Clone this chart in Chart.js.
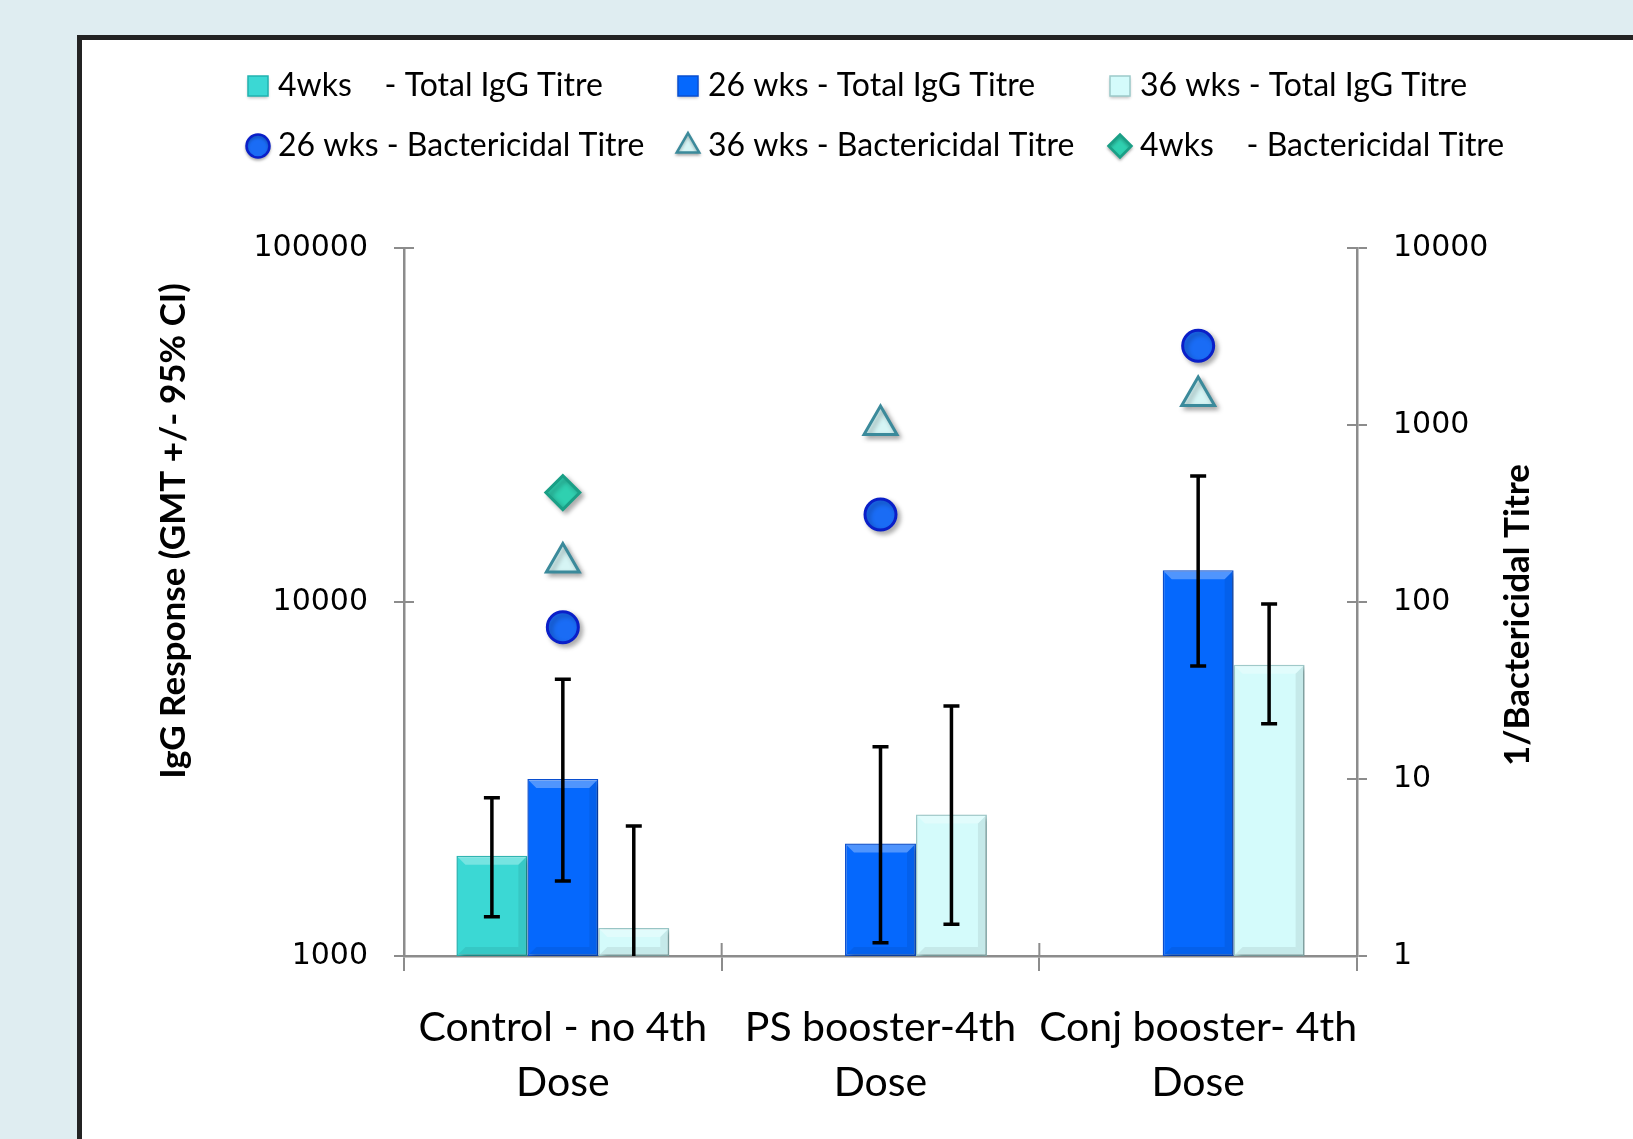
<!DOCTYPE html>
<html>
<head>
<meta charset="utf-8">
<script src="https://cdn.jsdelivr.net/npm/chart.js@4.4.0/dist/chart.umd.min.js"></script>
<style>
  html, body { margin: 0; padding: 0; }
  body { width: 1633px; height: 1139px; background: #dfedf1; overflow: hidden; position: relative; }
  #frame { position: absolute; left: 77px; top: 35px; width: 1700px; height: 1200px; background: #fff;
           border-left: 5px solid #232323; border-top: 5px solid #232323; box-sizing: border-box; }
  #chart { position: absolute; left: 0; top: 0; }
</style>
</head>
<body>
<div id="frame"></div>
<canvas id="chart" width="1633" height="1139"></canvas>
<script>
// Data
const categories = [['Control - no 4th', 'Dose'], ['PS booster-4th', 'Dose'], ['Conj booster- 4th', 'Dose']];

// IgG titre (left axis), GMT with 95% CI
const igg4wk = [1920, null, null];
const igg4wkLow = [1290, null, null];
const igg4wkHigh = [2800, null, null];
const igg26wk = [3160, 2080, 12300];
const igg26wkLow = [1630, 1090, 6600];
const igg26wkHigh = [6050, 3900, 22700];
const igg36wk = [1200, 2510, 6650];
const igg36wkLow = [700, 1230, 4530];
const igg36wkHigh = [2330, 5080, 9870];

// Bactericidal titre (right axis)
const bact26wk = [72, 312, 2800];
const bact36wk = [167, 1000, 1460];
const bact4wk = [415, null, null];

const leftTicks = [1000, 10000, 100000];
const rightTicks = [1, 10, 100, 1000, 10000];

const textFont = 'Lato, "Open Sans", sans-serif';
const numFont = '"DejaVu Sans", Verdana, sans-serif';
const axisGray = '#8c8c8c';

// Shadow under bars and markers
const shadows = {
  id: 'shadows',
  beforeDatasetDraw(chart) {
    const c = chart.ctx;
    c.save();
    c.shadowColor = 'rgba(0, 0, 0, 0.3)';
    c.shadowBlur = 5;
    c.shadowOffsetX = 3;
    c.shadowOffsetY = 3;
  },
  afterDatasetDraw(chart) {
    chart.ctx.restore();
  }
};

// Soft bevel on the bars, like the Excel original
const bevel = {
  id: 'bevel',
  afterDatasetDraw(chart, args) {
    const meta = args.meta;
    if (meta.type !== 'bar') return;
    const c = chart.ctx;
    c.save();
    meta.data.forEach(bar => {
      if (!bar || isNaN(bar.y)) return;
      const l = bar.x - bar.width / 2, r = bar.x + bar.width / 2;
      const t = bar.y, b = bar.base;
      if (b - t < 4) return;
      const d = Math.min(9, (b - t) / 3);
      // top highlight
      c.fillStyle = 'rgba(255, 255, 255, 0.3)';
      c.beginPath();
      c.moveTo(l + 1, t + 1); c.lineTo(r - 1, t + 1); c.lineTo(r - d, t + d); c.lineTo(l + d, t + d);
      c.closePath(); c.fill();
      // darker sides and bottom
      c.fillStyle = 'rgba(0, 0, 0, 0.07)';
      c.beginPath();
      c.moveTo(r - 1, t + 1); c.lineTo(r - 1, b - 1); c.lineTo(r - d, b - d); c.lineTo(r - d, t + d);
      c.closePath(); c.fill();
      c.beginPath();
      c.moveTo(l + 1, b - 1); c.lineTo(r - 1, b - 1); c.lineTo(r - d, b - d); c.lineTo(l + d, b - d);
      c.closePath(); c.fill();
    });
    c.restore();
  }
};

// Error bars for the IgG bars
const errorBars = {
  id: 'errorBars',
  afterDatasetsDraw(chart) {
    const { ctx, chartArea, scales: { y } } = chart;
    ctx.save();
    ctx.beginPath();
    ctx.rect(chartArea.left, 0, chartArea.width, chartArea.bottom);
    ctx.clip();
    ctx.strokeStyle = '#000';
    ctx.lineWidth = 3.5;
    chart.data.datasets.forEach((ds, di) => {
      if (!ds.errLow) return;
      chart.getDatasetMeta(di).data.forEach((bar, i) => {
        if (ds.data[i] == null) return;
        const x = bar.x;
        const yl = y.getPixelForValue(ds.errLow[i]);
        const yh = y.getPixelForValue(ds.errHigh[i]);
        ctx.beginPath();
        ctx.moveTo(x, yl); ctx.lineTo(x, yh);
        ctx.moveTo(x - 8, yh); ctx.lineTo(x + 8, yh);
        ctx.moveTo(x - 8, yl); ctx.lineTo(x + 8, yl);
        ctx.stroke();
      });
    });
    ctx.restore();
  }
};

// Excel style tick marks cross the axis line, Chart.js draws only the outer half
const crossTicks = {
  id: 'crossTicks',
  afterDraw(chart) {
    const { ctx, chartArea, scales } = chart;
    ctx.save();
    ctx.strokeStyle = axisGray;
    ctx.lineWidth = 2;
    ctx.beginPath();
    scales.y.ticks.forEach(t => {
      const p = scales.y.getPixelForValue(t.value);
      ctx.moveTo(chartArea.left, p); ctx.lineTo(chartArea.left + 10, p);
    });
    scales.y2.ticks.forEach(t => {
      const p = scales.y2.getPixelForValue(t.value);
      ctx.moveTo(chartArea.right - 10, p); ctx.lineTo(chartArea.right, p);
    });
    const half = (scales.x.getPixelForValue(1) - scales.x.getPixelForValue(0)) / 2;
    for (let i = 0; i <= categories.length; i++) {
      const p = scales.x.getPixelForValue(0) - half + i * 2 * half;
      ctx.moveTo(p, chartArea.bottom - 13); ctx.lineTo(p, chartArea.bottom);
    }
    ctx.stroke();
    ctx.restore();
  }
};

// Axis titles placed where the original has them
const axisTitles = {
  id: 'axisTitles',
  afterDraw(chart) {
    const c = chart.ctx;
    c.save();
    c.fillStyle = '#000';
    c.font = 'bold 35px ' + textFont;
    c.textAlign = 'center';
    c.textBaseline = 'middle';
    [['IgG Response (GMT +/- 95% CI)', 174, 531], ['1/Bactericidal Titre', 1518, 615]].forEach(([t, x, y]) => {
      c.save();
      c.translate(x, y);
      c.rotate(-Math.PI / 2);
      c.fillText(t, 0, 0);
      c.restore();
    });
    c.restore();
  }
};

// Legend in a 3 x 2 grid
const gridLegend = {
  id: 'gridLegend',
  afterDraw(chart) {
    const c = chart.ctx;
    const colX = [258, 688, 1120];
    const rowY = [86, 146];
    c.save();
    c.font = '32px ' + textFont;
    c.textBaseline = 'middle';
    c.fillStyle = '#000';
    chart.data.datasets.forEach((ds, i) => {
      const x = colX[i % 3];
      const y = rowY[Math.floor(i / 3)];
      c.save();
      c.shadowColor = 'rgba(0, 0, 0, 0.25)';
      c.shadowBlur = 3;
      c.shadowOffsetY = 2;
      if (ds.type === 'line') {
        c.fillStyle = ds.pointBackgroundColor;
        c.strokeStyle = ds.pointBorderColor;
        c.lineWidth = 2.5;
        Chart.helpers.drawPoint(c, { pointStyle: ds.pointStyle, radius: ds.pointStyle === 'triangle' ? 13 : 11.5, borderWidth: 2.5 }, x, y);
      } else {
        c.fillStyle = ds.backgroundColor;
        c.fillRect(x - 10, y - 10, 20, 20);
        c.shadowColor = 'transparent';
        c.strokeStyle = ds.borderColor;
        c.lineWidth = 1.5;
        c.strokeRect(x - 10, y - 10, 20, 20);
      }
      c.restore();
      c.fillText(ds.label, x + 20, y);
    });
    c.restore();
  }
};

const barStyle = { borderWidth: 1.5, borderSkipped: false, yAxisID: 'y', barPercentage: 1.0, categoryPercentage: 0.67 };
const pointStyle = { type: 'line', showLine: false, yAxisID: 'y2', pointBorderWidth: 3 };

new Chart(document.getElementById('chart'), {
  type: 'bar',
  data: {
    labels: categories,
    datasets: [
      { ...barStyle, label: '4wks    - Total IgG Titre', data: igg4wk, errLow: igg4wkLow, errHigh: igg4wkHigh,
        backgroundColor: '#3bd8d4', borderColor: '#22b3b0' },
      { ...barStyle, label: '26 wks - Total IgG Titre', data: igg26wk, errLow: igg26wkLow, errHigh: igg26wkHigh,
        backgroundColor: '#0568fd', borderColor: '#0a4fd0' },
      { ...barStyle, label: '36 wks - Total IgG Titre', data: igg36wk, errLow: igg36wkLow, errHigh: igg36wkHigh,
        backgroundColor: '#d4fbfb', borderColor: '#9ccaca' },
      { ...pointStyle, label: '26 wks - Bactericidal Titre', data: bact26wk, pointStyle: 'circle', pointRadius: 15.5,
        pointBackgroundColor: '#1a6cf5', pointBorderColor: '#0a1fc8' },
      { ...pointStyle, label: '36 wks - Bactericidal Titre', data: bact36wk, pointStyle: 'triangle', pointRadius: 19,
        pointBackgroundColor: '#d6f5f5', pointBorderColor: '#3b8a9b' },
      { ...pointStyle, label: '4wks    - Bactericidal Titre', data: bact4wk, pointStyle: 'rectRot', pointRadius: 17,
        pointBackgroundColor: '#2fd0b0', pointBorderColor: '#1a9f86' }
    ]
  },
  options: {
    responsive: false,
    animation: false,
    devicePixelRatio: 1,
    layout: { padding: { top: 248, left: 0, right: 0, bottom: 0 } },
    plugins: {
      legend: { display: false },
      tooltip: { enabled: false }
    },
    scales: {
      x: {
        grid: { drawOnChartArea: false, tickLength: 15, color: axisGray, lineWidth: 2, offset: true },
        border: { color: axisGray, width: 2.5 },
        ticks: { color: '#000', font: { family: textFont, size: 41, lineHeight: 1.34 }, padding: 29, maxRotation: 0, autoSkip: false },
        afterFit: s => { s.height = 183; }
      },
      y: {
        type: 'logarithmic',
        position: 'left',
        min: 1000,
        max: 100000,
        afterBuildTicks: s => { s.ticks = leftTicks.map(v => ({ value: v })); },
        grid: { drawOnChartArea: false, tickLength: 10, color: axisGray, lineWidth: 2 },
        border: { color: axisGray, width: 2.5 },
        ticks: { color: '#000', font: { family: numFont, size: 30 }, padding: 26, callback: v => String(v) },
        afterFit: s => { s.width = 404; }
      },
      y2: {
        type: 'logarithmic',
        position: 'right',
        min: 1,
        max: 10000,
        afterBuildTicks: s => { s.ticks = rightTicks.map(v => ({ value: v })); },
        grid: { drawOnChartArea: false, tickLength: 10, color: axisGray, lineWidth: 2 },
        border: { color: axisGray, width: 2.5 },
        ticks: { color: '#000', font: { family: numFont, size: 30 }, padding: 26, callback: v => String(v) },
        afterFit: s => { s.width = 276; }
      }
    }
  },
  plugins: [shadows, bevel, errorBars, crossTicks, axisTitles, gridLegend]
});
</script>
</body>
</html>
